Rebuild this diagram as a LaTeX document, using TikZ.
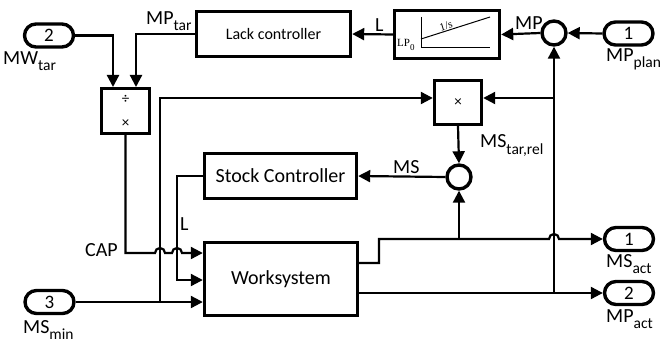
\documentclass[tikz,border=0pt]{standalone}
\usepackage{fontspec}
\setmainfont{Carlito}
\newfontfamily\intfont{Liberation Serif}
\usetikzlibrary{arrows.meta}
\usetikzlibrary{calc}

\newcommand{\lowsub}[1]{\raisebox{-0.3em}{\fontsize{15.5}{15.5}\selectfont #1}}
\newcommand{\tinysub}[1]{\raisebox{-0.3em}{\fontsize{9}{9}\selectfont #1}}

\begin{document}
\begin{tikzpicture}[x=1pt,y=-1pt,
    blk/.style={draw,line width=3.4pt,inner sep=0pt,font=\fontsize{20}{22}\selectfont},
    port/.style={draw,line width=3.4pt,rounded corners=11.5pt,minimum width=49pt,minimum height=23pt,inner sep=0pt,font=\fontsize{19}{20}\selectfont},
    sumc/.style={draw,circle,line width=3.4pt,minimum size=24pt,inner sep=0pt},
    sig/.style={line width=2.2pt,-{Triangle[length=12pt,width=12pt]}},
    lbl/.style={inner sep=0pt,font=\fontsize{20}{22}\selectfont}]
    \useasboundingbox (0,0) rectangle (660,358);

    \node[port] (in2) at (49,35.5) {2};
    \node[port] (in1) at (628.5,33.5) {1};
    \node[port] (in3) at (49.5,302) {3};
    \node[port] (out1) at (629,239) {1};
    \node[port] (out2) at (629,293) {2};

    \node[blk,minimum width=154pt,minimum height=45pt,font=\fontsize{16}{18}\selectfont] (lack) at (273.5,34) {Lack controller};
    \node[blk,minimum width=105pt,minimum height=48pt] (integ) at (447,34.5) {};
    \node[blk,minimum width=48pt,minimum height=45pt,align=center,font=\fontsize{15}{24}\selectfont] (div) at (125.5,111) {÷\\×};
    \node[blk,minimum width=47pt,minimum height=44pt,font=\fontsize{15}{18}\selectfont] (mul) at (458,102.5) {×};
    \node[blk,minimum width=152pt,minimum height=45pt] (stock) at (280.5,176) {Stock Controller};
    \node[blk,minimum width=153pt,minimum height=73pt] (work) at (281,279) {Worksystem};
    \node[sumc] (sum1) at (554,33) {};
    \node[sumc] (sum2) at (459,177) {};

    \draw[line width=1pt] (421,17) -- (421,48) -- (490,48);
    \draw[line width=1pt] (421,39) -- (490,17);
    \node[inner sep=0pt,rotate=17,font=\intfont\fontsize{11}{11}\selectfont] (slope) at (446,26) {1/s};
    \node[inner sep=0pt,anchor=base west,font=\intfont\fontsize{11}{11}\selectfont] (lp0) at (397,47) {LP\tinysub{0}};

    \draw[sig] (in2.east) -| (113,87);
    \draw[sig] (lack.west) -| (136,87);
    \draw[sig] (integ.west) -- (lack.east);
    \draw[sig] (sum1.west) -- (integ.east);
    \draw[sig] (in1.west) -- (sum1.east);
    \draw[sig] (sum1.south |- out2.west) -- (sum1.south);
    \draw[sig] (sum1.south |- 0,98) -- (mul.east |- 0,98);
    \draw[sig] (in3.east) -- (work.west |- in3.east);
    \draw[sig] (160,302) |- (mul.west |- 0,98);
    \draw[sig] (mul.south) -- (sum2.north);
    \draw[sig] (sum2.west) -- (stock.east);
    \draw[sig] (stock.west) -| (177,280) -- (work.west |- 0,280);
    \draw[sig] (div.south) |- (155,253) arc[start angle=180,end angle=0,radius=5pt]
        -- (172,253) arc[start angle=180,end angle=0,radius=5pt] -- (work.west |- 0,253);
    \draw[sig] (work.east |- 0,263) -- (379,263) -- (379,239) -- (549,239)
        arc[start angle=180,end angle=0,radius=5pt] -- (out1.west);
    \draw[sig] (sum2.south |- 0,239) -- (sum2.south);
    \draw[sig] (work.east |- out2.west) -- (out2.west);

    \node[lbl,anchor=base west] (mwtar) at (3,65) {MW\lowsub{tar}};
    \node[lbl,anchor=base west] (mptar) at (146,25) {MP\lowsub{tar}};
    \node[lbl,anchor=base west] (lup) at (375,32) {L};
    \node[lbl,anchor=base west] (mp) at (515,30) {MP};
    \node[lbl,anchor=base west] (mpplan) at (606,62) {MP\lowsub{plan}};
    \node[lbl,anchor=base west] (mstarrel) at (480,148) {MS\lowsub{tar,rel}};
    \node[lbl,anchor=base west] (ms) at (393,173) {MS};
    \node[lbl,anchor=base west] (llow) at (180,230) {L};
    \node[lbl,anchor=base east] (cap) at (118,256) {CAP};
    \node[lbl,anchor=base west] (msmin) at (23,333) {MS\lowsub{min}};
    \node[lbl,anchor=base west] (msact) at (606,267) {MS\lowsub{act}};
    \node[lbl,anchor=base west] (mpact) at (606,322) {MP\lowsub{act}};
\end{tikzpicture}
\end{document}
